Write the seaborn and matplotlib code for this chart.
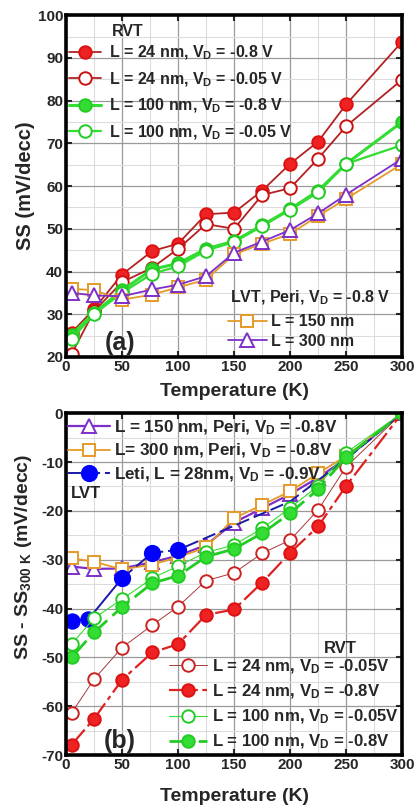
import matplotlib
matplotlib.use("Agg")
import matplotlib.pyplot as plt
import seaborn as sns
from matplotlib.ticker import MultipleLocator

# ---- data: panel (a), SS vs temperature ----
temps = [5, 25, 50, 77, 100, 125, 150, 175, 200, 225, 250, 300]
ss_24_08 = [25.7, 31.2, 39.3, 44.8, 46.5, 53.4, 53.8, 58.9, 65.2, 70.4, 79.1, 93.8]
ss_24_005 = [20.7, 30.7, 37.5, 40.9, 45.3, 51.1, 50.0, 57.9, 59.5, 66.4, 74.0, 84.9]
ss_100_08 = [25.2, 30.3, 35.6, 40.5, 41.9, 45.3, 47.1, 50.8, 54.6, 58.9, 65.2, 75.0]
ss_100_005 = [24.2, 30.0, 35.0, 39.5, 41.2, 44.9, 46.9, 50.6, 54.4, 58.5, 65.2, 69.6]
ss_150_peri = [36.0, 35.6, 33.4, 34.6, 36.3, 38.1, 44.0, 46.5, 48.8, 53.0, 57.0, 65.2]
ss_300_peri = [35.0, 34.4, 34.2, 35.8, 36.9, 38.9, 44.4, 47.0, 49.7, 53.6, 58.0, 66.4]

# ---- data: panel (b), SS - SS(300 K) ----
d_tri = [-31.4, -31.9, -31.8, -30.5, -29.2, -27.0, -22.4, -19.5, -16.6, -13.2, -9.3, 0.0]
d_sq = [-29.7, -30.4, -32.0, -31.0, -29.5, -27.5, -21.5, -18.8, -16.0, -12.3, -8.8, 0.0]
leti_temps = [5, 20, 50, 77, 100, 200, 250, 300]
d_leti = [-42.5, -42.2, -33.8, -28.6, -28.0, -18.1, -9.4, 0.0]
d_24_005 = [-61.4, -54.5, -48.0, -43.4, -39.6, -34.3, -32.7, -28.7, -26.0, -19.8, -11.0, 0.0]
d_24_08 = [-67.9, -62.6, -54.6, -49.0, -47.3, -41.3, -40.2, -34.7, -28.6, -23.2, -14.9, 0.0]
d_100_005 = [-47.3, -42.0, -38.1, -33.8, -31.3, -28.5, -27.0, -23.6, -19.4, -14.9, -8.1, 0.0]
d_100_08 = [-50.0, -44.9, -39.7, -34.8, -33.3, -29.4, -27.8, -24.6, -20.5, -15.6, -9.0, 0.0]

sns.set_style("ticks")
plt.rcParams["font.family"] = ["Liberation Sans", "DejaVu Sans"]
plt.rcParams["font.weight"] = "bold"
plt.rcParams["axes.labelweight"] = "bold"
plt.rcParams["axes.unicode_minus"] = False
plt.rcParams["mathtext.fontset"] = "custom"
plt.rcParams["mathtext.rm"] = "Liberation Sans:bold"
plt.rcParams["mathtext.it"] = "Liberation Sans:bold"
plt.rcParams["mathtext.bf"] = "Liberation Sans:bold"
plt.rcParams["mathtext.default"] = "rm"

RED = "#ee2222"
DRED = "#b22222"
GREEN = "#33dd33"
PURPLE = "#7d2fc8"
ORANGE = "#e69a28"
BLUE = "#0000ff"
NAVY = "#1a1aa8"

fig = plt.figure(figsize=(4.15, 8.10), dpi=100)
ax1 = fig.add_axes([0.159, 0.5593, 0.81, 0.422])
ax2 = fig.add_axes([0.159, 0.0679, 0.81, 0.422])


def line(ax, x, y, color, mfc, mec, marker="o", ms=9, lw=1.3, ls="-", label=None, **kw):
    sns.lineplot(x=x, y=y, ax=ax, sort=False, estimator=None, color=color,
                 marker=marker, markersize=ms, markerfacecolor=mfc,
                 markeredgecolor=mec, markeredgewidth=1.4, linewidth=lw,
                 linestyle=ls, label=label, legend=False, **kw)
    return ax.get_lines()[-1]


def style_axes(ax, ylo, yhi, ymaj, ymin, xpad):
    ax.set_xlim(0, 300)
    ax.set_ylim(ylo, yhi)
    ax.xaxis.set_major_locator(MultipleLocator(50))
    ax.xaxis.set_minor_locator(MultipleLocator(25))
    ax.yaxis.set_major_locator(MultipleLocator(ymaj))
    ax.yaxis.set_minor_locator(MultipleLocator(ymin))
    ax.grid(which="major", color="#9a9a9a", linewidth=0.9)
    ax.grid(which="minor", color="#dcdcdc", linewidth=0.8)
    ax.set_axisbelow(True)
    for s in ax.spines.values():
        s.set_linewidth(2.6)
        s.set_color("black")
    ax.tick_params(which="major", direction="in", length=4, width=1.5,
                   top=True, right=True, labelsize=11, pad=2)
    ax.tick_params(which="minor", direction="in", length=0)
    for t in ax.get_xticklabels() + ax.get_yticklabels():
        t.set_fontweight("bold")
    ax.set_xlabel("Temperature (K)", fontsize=14, fontweight="bold", labelpad=xpad)


# ---- panel (a) ----
h1 = line(ax1, temps, ss_24_08, DRED, RED, "#dd1111", label="L = 24 nm, V$_D$ = -0.8 V")
h2 = line(ax1, temps, ss_24_005, DRED, "white", "#cc1111", label="L = 24 nm, V$_D$ = -0.05 V")
h3 = line(ax1, temps, ss_100_08, GREEN, GREEN, "#22cc22", lw=2.2, label="L = 100 nm, V$_D$ = -0.8 V")
h4 = line(ax1, temps, ss_100_005, GREEN, "white", "#22cc22", lw=1.6, label="L = 100 nm, V$_D$ = -0.05 V")
h5 = line(ax1, temps, ss_150_peri, ORANGE, "white", ORANGE, marker="s", ms=8, label="L = 150 nm")
h6 = line(ax1, temps, ss_300_peri, PURPLE, "white", PURPLE, marker="^", ms=10, label="L = 300 nm")
style_axes(ax1, 20, 100, 10, 5, xpad=7)
ax1.set_ylabel("SS (mV/decc)", fontsize=14.5, fontweight="bold", labelpad=2)

leg1 = ax1.legend(handles=[h1, h2, h3, h4], loc="upper left", bbox_to_anchor=(0.0, 0.925),
                  frameon=False, fontsize=11.5, handlelength=2.0, handletextpad=0.5,
                  labelspacing=0.5, borderaxespad=0, borderpad=0.2)
ax1.add_artist(leg1)
ax1.text(0.137, 0.953, "RVT", transform=ax1.transAxes, fontsize=11.5, fontweight="bold", va="center")
ax1.legend(handles=[h5, h6], loc="upper left", bbox_to_anchor=(0.478, 0.13),
           frameon=False, fontsize=11.5, handlelength=2.4, handletextpad=0.3,
           labelspacing=0.3, borderaxespad=0, borderpad=0.1)
ax1.text(0.487, 0.172, "LVT, Peri, V$_D$ = -0.8 V", transform=ax1.transAxes,
         fontsize=11.5, fontweight="bold", va="center")
ax1.text(0.16, 0.04, "(a)", transform=ax1.transAxes, fontsize=18, fontweight="bold",
         ha="center", va="center")

# ---- panel (b) ----
g5 = line(ax2, temps, d_tri, PURPLE, "white", PURPLE, marker="^", ms=10, lw=1.6,
          label="L = 150 nm, Peri, V$_D$ = -0.8V")
g6 = line(ax2, temps, d_sq, ORANGE, "white", ORANGE, marker="s", ms=8, lw=1.3,
          label="L= 300 nm, Peri, V$_D$ = -0.8V")
# solid start of the Leti curve, dashed afterwards
sns.lineplot(x=leti_temps[:3], y=d_leti[:3], ax=ax2, sort=False, estimator=None,
             color=NAVY, linewidth=1.4, legend=False)
g7 = line(ax2, leti_temps[2:], d_leti[2:], NAVY, BLUE, BLUE, ms=11, lw=1.4, ls=(0, (7, 2.5)),
          markevery=[0, 1, 2], label="Leti, L = 28nm, V$_D$ = -0.9V")
sns.lineplot(x=leti_temps[:2], y=d_leti[:2], ax=ax2, sort=False, estimator=None,
             color=BLUE, marker="o", markersize=11, markerfacecolor=BLUE,
             markeredgecolor=BLUE, linewidth=0, legend=False)
g1 = line(ax2, temps, d_24_005, "#a83a3a", "white", "#cc2222", lw=0.7,
          label="L = 24 nm, V$_D$ = -0.05V")
g2 = line(ax2, temps, d_24_08, "#dd2222", RED, "#dd1111", lw=1.6, ls=(0, (9, 2, 2, 2)),
          label="L = 24 nm, V$_D$ = -0.8V")
g3 = line(ax2, temps, d_100_005, GREEN, "white", "#22cc22", lw=0.8,
          label="L = 100 nm, V$_D$ = -0.05V")
g4 = line(ax2, temps, d_100_08, "#22cc22", GREEN, "#22cc22", lw=2.0, ls=(0, (8, 2.5)),
          label="L = 100 nm, V$_D$ = -0.8V")
style_axes(ax2, -70, 0, 10, 5, xpad=12)
ax2.set_ylabel("SS - SS$_{300\\ K}$ (mV/decc)", fontsize=14, fontweight="bold", labelpad=2)
ax2.yaxis.set_label_coords(-0.095, 0.58)

leg2 = ax2.legend(handles=[g5, g6, g7], loc="upper left", bbox_to_anchor=(0.0, 0.99),
                  frameon=False, fontsize=12.3, handlelength=2.5, handletextpad=0.2,
                  labelspacing=0.3, borderaxespad=0, borderpad=0.1)
ax2.add_artist(leg2)
ax2.text(0.015, 0.766, "LVT", transform=ax2.transAxes, fontsize=12, fontweight="bold", va="center")
ax2.legend(handles=[g1, g2, g3, g4], loc="upper left", bbox_to_anchor=(0.3, 0.29),
           frameon=False, fontsize=12.1, handlelength=2.3, handletextpad=0.3,
           labelspacing=0.4, borderaxespad=0, borderpad=0.1)
ax2.text(0.815, 0.313, "RVT", transform=ax2.transAxes, fontsize=12, fontweight="bold",
         ha="center", va="center")
ax2.text(0.16, 0.04, "(b)", transform=ax2.transAxes, fontsize=18, fontweight="bold",
         ha="center", va="center")

fig.savefig("out.png", dpi=100)
